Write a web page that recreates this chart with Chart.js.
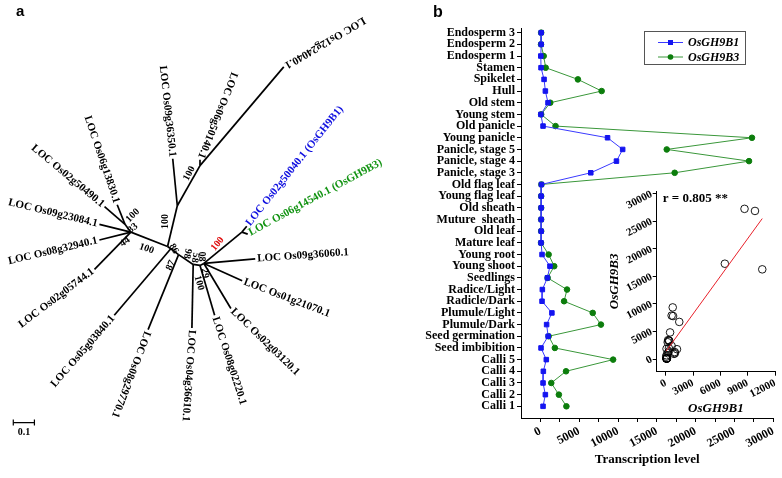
<!DOCTYPE html>
<html>
<head>
<meta charset="utf-8">
<script src="https://cdn.jsdelivr.net/npm/chart.js@4.4.0/dist/chart.umd.min.js"></script>
<style>
  body { margin: 0; background: #fff; width: 782px; height: 478px; position: relative; overflow: hidden; }
  canvas { position: absolute; }
  #tree { left: 0; top: 0; }
  #expr { left: 400px; top: 0; }
  #corr { left: 600px; top: 180px; }
</style>
</head>
<body>
<canvas id="tree" width="400" height="478"></canvas>
<canvas id="expr" width="382" height="478"></canvas>
<canvas id="corr" width="182" height="240"></canvas>
<script>
// ---- panel b : expression profile ----
const tissues = ['Endosperm 3', 'Endosperm 2', 'Endosperm 1', 'Stamen', 'Spikelet', 'Hull', 'Old stem',
  'Young stem', 'Old panicle', 'Young panicle', 'Panicle, stage 5', 'Panicle, stage 4', 'Panicle, stage 3',
  'Old flag leaf', 'Young flag leaf', 'Old sheath', 'Muture  sheath', 'Old leaf', 'Mature leaf', 'Young root',
  'Young shoot', 'Seedlings', 'Radice/Light', 'Radicle/Dark', 'Plumule/Light', 'Plumule/Dark',
  'Seed germination', 'Seed imbibition', 'Calli 5', 'Calli 4', 'Calli 3', 'Calli 2', 'Calli 1'];
const gh9b1 = [100, 100, 50, 80, 470, 640, 980, 60, 340, 8650, 10600, 9800, 6490, 130, 100, 100, 100, 100, 80,
  210, 1230, 900, 250, 210, 1480, 800, 1000, 80, 760, 380, 340, 640, 340];
const gh9b3 = [100, 80, 420, 680, 4830, 7890, 1270, 100, 1950, 27260, 16280, 26880, 17300, 130, 100, 100, 100, 100, 80,
  1060, 1780, 930, 3430, 3050, 6740, 7800, 1060, 1860, 9370, 3300, 1400, 2380, 3350];
const levelTicks = [0, 5000, 10000, 15000, 20000, 25000, 30000];
const corrXTicks = [0, 3000, 6000, 9000, 12000];
const corrYTicks = [0, 5000, 10000, 15000, 20000, 25000, 30000];
const corrLabel = 'r = 0.805 **';

// ---- panel a : neighbour-joining tree ----
const treeNodes = {
  G: [123, 224], A: [129, 232], B: [166.7, 246.7], C: [176.7, 205], D: [200, 164],
  P1: [170, 249], P2: [178, 255], E: [193, 265], E2: [200, 266], E3: [204, 264], H: [243, 232]
};
const innerBranches = [['G', 'A'], ['A', 'B'], ['B', 'C'], ['C', 'D'], ['B', 'P1'], ['P1', 'P2'],
  ['P2', 'E'], ['E', 'E2'], ['E2', 'E3'], ['E3', 'H']];
const leaves = [
  { name: 'LOC Os12g24040.1', from: 'D', tip: [286, 63], angle: 149.6, align: 'right' },
  { name: 'LOC Os06g50140.1', from: 'D', tip: [200, 158], angle: 111.6, align: 'right' },
  { name: 'LOC Os09g36350.1', from: 'C', tip: [172, 157], angle: 83.8, align: 'right' },
  { name: 'LOC Os06g13830.1', from: 'G', tip: [115, 204], angle: 71.3, align: 'right' },
  { name: 'LOC Os02g50490.1', from: 'G', tip: [102, 206], angle: 39.8, align: 'right' },
  { name: 'LOC Os09g23084.1', from: 'A', tip: [96.7, 224], angle: 13.7, align: 'right' },
  { name: 'LOC Os08g32940.1', from: 'A', tip: [96.7, 240], angle: -13.3, align: 'right' },
  { name: 'LOC Os02g05744.1', from: 'A', tip: [91.7, 270], angle: -37, align: 'right' },
  { name: 'LOC Os05g03840.1', from: 'P1', tip: [112, 317], angle: -49, align: 'right' },
  { name: 'LOC Os08g29770.1', from: 'P2', tip: [146.7, 331.7], angle: 111, align: 'left' },
  { name: 'LOC Os04g36610.1', from: 'E', tip: [191.7, 330], angle: 94, align: 'left' },
  { name: 'LOC Os08g02220.1', from: 'E2', tip: [215, 317], angle: 72.2, align: 'left' },
  { name: 'LOC Os02g03120.1', from: 'E3', tip: [231.7, 310], angle: 44.3, align: 'left' },
  { name: 'LOC Os01g21070.1', from: 'E3', tip: [243.3, 281.7], angle: 21, align: 'left' },
  { name: 'LOC Os09g36060.1', from: 'E3', tip: [256.7, 259.3], angle: -4, align: 'left' },
  { name: 'LOC Os02g50040.1 (OsGH9B1)', from: 'H', tip: [248, 226], angle: -51.5, align: 'left', color: '#1010e0' },
  { name: 'LOC Os06g14540.1 (OsGH9B3)', from: 'H', tip: [249, 234], angle: -28.4, align: 'left', color: '#139413' }
];
const supports = [
  { t: '100', at: [189, 172], angle: -62 }, { t: '100', at: [165, 221], angle: -90 },
  { t: '100', at: [131, 215], angle: -45 }, { t: '83', at: [131, 228], angle: -40 },
  { t: '44', at: [123, 242], angle: -35 }, { t: '100', at: [145, 249], angle: 20 },
  { t: '86', at: [173, 249], angle: 60 }, { t: '87', at: [170, 266], angle: -65 },
  { t: '98', at: [187, 254], angle: 100 }, { t: '58', at: [195, 258], angle: 100 },
  { t: '08', at: [202, 257], angle: 90 }, { t: '29', at: [205, 274], angle: 80 },
  { t: '100', at: [199, 284], angle: 75 }, { t: '100', at: [218, 244], angle: -50, color: '#e01010' }
];
const scaleBar = [[8.3, 426.7], [30, 426.7]];

Chart.defaults.font.family = '"Liberation Serif", "Times New Roman", serif';
Chart.defaults.font.weight = 'bold';
Chart.defaults.font.size = 12;
Chart.defaults.color = '#000';

const pt = p => ({ x: p[0], y: p[1] });

// tree as line segments on a plain scatter
const segments = innerBranches.map(b => [pt(treeNodes[b[0]]), pt(treeNodes[b[1]])])
  .concat(leaves.map(l => [pt(treeNodes[l.from]), pt(l.tip)]));

const treeText = {
  id: 'treeText',
  afterDatasetsDraw(chart) {
    const { ctx, scales: { x, y } } = chart;
    const put = (text, p, angle, align, color, font, gap) => {
      ctx.save();
      ctx.translate(x.getPixelForValue(p[0]), y.getPixelForValue(p[1]));
      ctx.rotate(angle * Math.PI / 180);
      ctx.font = font;
      ctx.fillStyle = color || '#000';
      ctx.textAlign = align;
      ctx.textBaseline = 'middle';
      ctx.fillText(text, align === 'left' ? gap : align === 'right' ? -gap : 0, 0);
      ctx.restore();
    };
    leaves.forEach(l => put(l.name, l.tip, l.angle, l.align, l.color, 'bold 11px "Liberation Serif"', 2));
    supports.forEach(s => put(s.t, s.at, s.angle, 'center', s.color, 'bold 10px "Liberation Serif"', 0));
    put('0.1', [19.2, 437], 0, 'center', '#000', 'bold 10px "Liberation Serif"', 0);
    ctx.save();
    ctx.font = 'bold 15px "Liberation Sans", Arial, sans-serif';
    ctx.fillStyle = '#000';
    ctx.fillText('a', 16, 16);
    ctx.restore();
  }
};

new Chart(document.getElementById('tree'), {
  type: 'scatter',
  data: {
    datasets: segments.map(s => ({
      data: s, showLine: true, borderColor: '#000', borderWidth: 1.7, pointRadius: 0
    })).concat([{
      data: scaleBar.map(pt), showLine: true, borderColor: '#000', borderWidth: 1.2,
      pointStyle: 'line', pointRadius: 3, pointRotation: 90, pointBorderColor: '#000', pointBorderWidth: 1.2
    }])
  },
  options: {
    responsive: false,
    animation: false,
    layout: { padding: 0 },
    plugins: { legend: { display: false }, tooltip: { enabled: false } },
    scales: {
      x: { type: 'linear', display: false, min: 0, max: 400 },
      y: { type: 'linear', display: false, min: 0, max: 478, reverse: true }
    }
  },
  plugins: [treeText]
});

// ---- panel b main chart ----
const n = tissues.length;
const blue = '#1414f0', blueLine = '#3a3aff', green = '#0c7d0c', greenLine = '#3a973a';

const exprLegend = {
  id: 'exprLegend',
  afterDraw(chart) {
    const ctx = chart.ctx;
    ctx.save();
    ctx.strokeStyle = '#555';
    ctx.lineWidth = 1;
    ctx.strokeRect(244.5, 31.5, 101, 33);
    const rows = [['OsGH9B1', blueLine, blue, 'rect', 42.5], ['OsGH9B3', greenLine, green, 'circle', 57]];
    rows.forEach(r => {
      ctx.strokeStyle = r[1];
      ctx.beginPath(); ctx.moveTo(258, r[4]); ctx.lineTo(283, r[4]); ctx.stroke();
      ctx.fillStyle = r[2];
      if (r[3] === 'rect') ctx.fillRect(268, r[4] - 2.5, 5, 5);
      else { ctx.beginPath(); ctx.arc(270.5, r[4], 2.8, 0, Math.PI * 2); ctx.fill(); }
      ctx.fillStyle = '#000';
      ctx.font = 'italic bold 12px "Liberation Serif"';
      ctx.textBaseline = 'middle';
      ctx.fillText(r[0], 288, r[4] + 0.5);
    });
    ctx.font = 'bold 16px "Liberation Sans", Arial, sans-serif';
    ctx.textBaseline = 'alphabetic';
    ctx.fillText('b', 33, 17);
    ctx.restore();
  }
};

new Chart(document.getElementById('expr'), {
  type: 'line',
  data: {
    datasets: [
      {
        label: 'OsGH9B1', data: gh9b1.map((v, i) => ({ x: v, y: n - i })),
        borderColor: blueLine, backgroundColor: blue, pointBackgroundColor: blue, pointBorderColor: blue,
        pointStyle: 'rect', pointRadius: 3.2, borderWidth: 1, tension: 0
      },
      {
        label: 'OsGH9B3', data: gh9b3.map((v, i) => ({ x: v, y: n - i })),
        borderColor: greenLine, backgroundColor: green, pointBackgroundColor: green, pointBorderColor: green,
        pointStyle: 'circle', pointRadius: 2.8, borderWidth: 1, tension: 0
      }
    ]
  },
  options: {
    responsive: false,
    animation: false,
    layout: { padding: { top: 28, right: 5 } },
    plugins: { legend: { display: false }, tooltip: { enabled: false } },
    scales: {
      x: {
        type: 'linear', min: -2500, max: 30000,
        afterBuildTicks(s) {
          const t = [];
          for (let v = 0; v <= 30000; v += 2500) t.push({ value: v });
          s.ticks = t;
        },
        afterFit(s) { s.height = 60; },
        ticks: {
          autoSkip: false, minRotation: 28, maxRotation: 28, padding: 2,
          callback: v => levelTicks.includes(v) ? String(v) : ''
        },
        grid: { drawOnChartArea: false, color: '#000', tickLength: 4 },
        border: { color: '#000', width: 1 },
        title: { display: true, text: 'Transcription level', font: { size: 13, weight: 'bold' }, padding: { top: 0, bottom: 11 } }
      },
      y: {
        type: 'linear', min: 0, max: 33.4,
        afterBuildTicks(s) { s.ticks = tissues.map((t, i) => ({ value: n - i })); },
        afterFit(s) { s.width = 121; },
        ticks: { autoSkip: false, padding: 2, callback: v => tissues[n - v] },
        grid: { drawOnChartArea: false, color: '#000', tickLength: 4 },
        border: { color: '#000', width: 1 }
      }
    }
  },
  plugins: [exprLegend]
});

// ---- inset: correlation ----
const pairs = gh9b1.map((v, i) => ({ x: v, y: gh9b3[i] }));
const mx = gh9b1.reduce((a, b) => a + b, 0) / n;
const my = gh9b3.reduce((a, b) => a + b, 0) / n;
let sxy = 0, sxx = 0;
pairs.forEach(p => { sxy += (p.x - mx) * (p.y - my); sxx += (p.x - mx) * (p.x - mx); });
const slope = sxy / sxx, icpt = my - slope * mx;
const xLo = Math.min(...gh9b1), xHi = Math.max(...gh9b1);
const fitLine = [{ x: xLo, y: icpt + slope * xLo }, { x: xHi, y: icpt + slope * xHi }];

const corrText = {
  id: 'corrText',
  afterDraw(chart) {
    const ctx = chart.ctx;
    ctx.save();
    ctx.font = 'bold 13px "Liberation Serif"';
    ctx.fillStyle = '#000';
    ctx.textBaseline = 'middle';
    ctx.fillText(corrLabel, chart.chartArea.left + 6, chart.chartArea.top + 8);
    ctx.restore();
  }
};

new Chart(document.getElementById('corr'), {
  type: 'scatter',
  data: {
    datasets: [
      { type: 'line', data: fitLine, borderColor: '#e8202a', borderWidth: 1, pointRadius: 0 },
      { data: pairs, pointRadius: 3.8, borderColor: '#000', pointBorderWidth: 0.9, backgroundColor: 'rgba(255,255,255,0)' }
    ]
  },
  options: {
    responsive: false,
    animation: false,
    layout: { padding: { top: 11, right: 7 } },
    plugins: { legend: { display: false }, tooltip: { enabled: false } },
    scales: {
      x: {
        type: 'linear', min: -1000, max: 12000,
        afterBuildTicks(s) { s.ticks = corrXTicks.map(v => ({ value: v })); },
        afterFit(s) { s.height = 48.3; },
        ticks: { autoSkip: false, minRotation: 27, maxRotation: 27, padding: 1, font: { size: 11 }, callback: v => String(v) },
        grid: { drawOnChartArea: false, color: '#000', tickLength: 4 },
        border: { color: '#000' },
        title: { display: true, text: 'OsGH9B1', font: { size: 13, style: 'italic', weight: 'bold' }, padding: { top: 0, bottom: 4 } }
      },
      y: {
        type: 'linear', min: -2300, max: 30500,
        afterBuildTicks(s) { s.ticks = corrYTicks.map(v => ({ value: v })); },
        afterFit(s) { s.width = 56.7; },
        ticks: { autoSkip: false, minRotation: 27, maxRotation: 27, padding: 1, font: { size: 11 }, callback: v => String(v) },
        grid: { drawOnChartArea: false, color: '#000', tickLength: 4 },
        border: { color: '#000' },
        title: { display: true, text: 'OsGH9B3', font: { size: 13, style: 'italic', weight: 'bold' }, padding: { top: 7, bottom: 0 } }
      }
    }
  },
  plugins: [corrText]
});
</script>
</body>
</html>
